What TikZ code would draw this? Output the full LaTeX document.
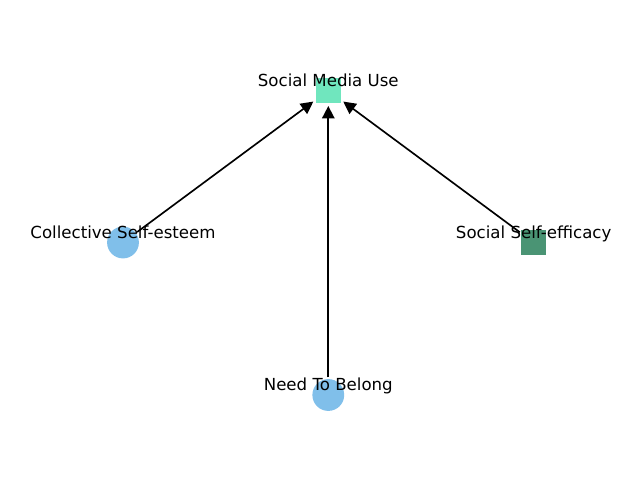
\documentclass[tikz,border=0pt]{standalone}
\usepackage{fontspec}
\setmainfont{DejaVu Sans}
\usetikzlibrary{arrows.meta}
\definecolor{lgreen}{RGB}{112,230,190}
\definecolor{dgreen}{RGB}{74,148,116}
\definecolor{lblue}{RGB}{128,191,234}
\begin{document}
\begin{tikzpicture}[x=0.01in,y=-0.01in,
  sq/.style={rectangle,minimum size=18pt,inner sep=0pt,draw=none},
  ci/.style={circle,minimum size=23pt,inner sep=0pt,draw=none},
  lab/.style={anchor=base,inner sep=0pt,font=\fontsize{12}{14}\selectfont},
  edge/.style={line width=1.2pt,-{Triangle[length=9pt,width=9pt]},shorten >=2pt,shorten <=1pt}]
\useasboundingbox (0,0) rectangle (640,480);
\node[sq,fill=lgreen] (smu) at (328.3,90.5) {};
\node[ci,fill=lblue] (cse) at (123,242.5) {};
\node[sq,fill=dgreen] (sse) at (533.7,242.5) {};
\node[ci,fill=lblue] (ntb) at (328.3,395) {};
\draw[edge] (cse) -- (smu);
\draw[edge] (ntb) -- (smu);
\draw[edge] (sse) -- (smu);
\node[lab] (lsmu) at (328.3,86.5) {Social Media Use};
\node[lab] (lcse) at (123,238.5) {Collective Self-esteem};
\node[lab] (lsse) at (533.7,238.5) {Social Self-efficacy};
\node[lab] (lntb) at (328.3,391) {Need To Belong};
\end{tikzpicture}
\end{document}
